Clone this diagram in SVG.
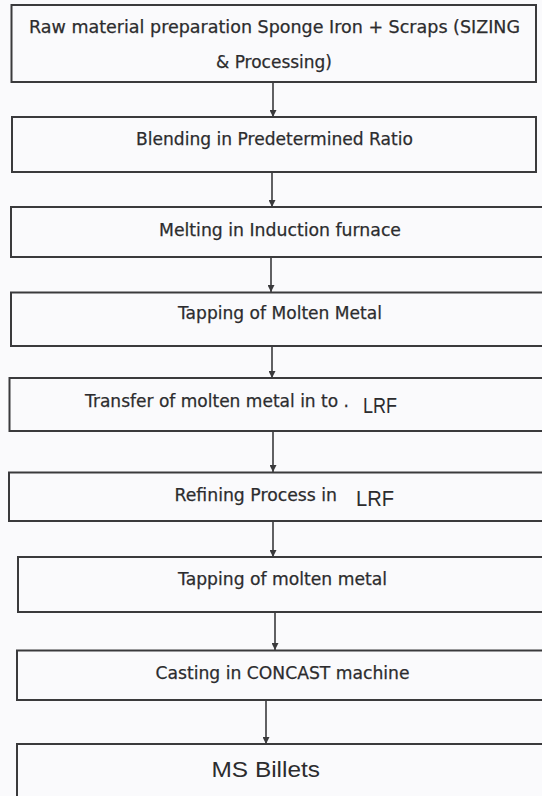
<svg xmlns="http://www.w3.org/2000/svg" width="542" height="796" viewBox="0 0 542 796">
<style>
.box{fill:none;stroke:#3a3a3c;stroke-width:2}
.t{font-family:"DejaVu Sans","Liberation Sans",sans-serif;font-size:17.5px;fill:#2c2c2e;stroke:#2c2c2e;stroke-width:0.25}
.c{font-family:"Liberation Sans","Noto Sans",sans-serif;font-size:22px;fill:#2c2c2e}
.ln{stroke:#3a3a3c;stroke-width:1.6;fill:none}
</style>
<defs>
<marker id="ah" viewBox="0 0 8 8" refX="8" refY="4" markerWidth="7" markerHeight="7" markerUnits="userSpaceOnUse" orient="auto">
<path d="M0,0 L8,4 L0,8 z" fill="#3a3a3c"/>
</marker>
</defs>
<rect width="542" height="796" fill="#fafafc"/>
<g id="connectors">
<line class="ln" x1="273" y1="82" x2="273" y2="117" marker-end="url(#ah)"/>
<line class="ln" x1="272" y1="172" x2="272" y2="207" marker-end="url(#ah)"/>
<line class="ln" x1="271" y1="257" x2="271" y2="292" marker-end="url(#ah)"/>
<line class="ln" x1="272" y1="346" x2="272" y2="378" marker-end="url(#ah)"/>
<line class="ln" x1="273" y1="431" x2="273" y2="472" marker-end="url(#ah)"/>
<line class="ln" x1="273" y1="521" x2="273" y2="557" marker-end="url(#ah)"/>
<line class="ln" x1="275" y1="612" x2="275" y2="650" marker-end="url(#ah)"/>
<line class="ln" x1="266" y1="700" x2="266" y2="744" marker-end="url(#ah)"/>
</g>
<g id="n1">
<rect class="box" x="11.5" y="5" width="524.5" height="77"/>
<text class="t" x="29" y="33" textLength="491" lengthAdjust="spacingAndGlyphs">Raw material preparation Sponge Iron + Scraps (SIZING</text>
<text class="t" x="216" y="68" textLength="116" lengthAdjust="spacingAndGlyphs">&amp; Processing)</text>
</g>
<g id="n2">
<rect class="box" x="12" y="117" width="524" height="55"/>
<text class="t" x="136" y="145" textLength="277" lengthAdjust="spacingAndGlyphs">Blending in Predetermined Ratio</text>
</g>
<g id="n3">
<rect class="box" x="11" y="207" width="540" height="50"/>
<text class="t" x="159" y="236" textLength="242" lengthAdjust="spacingAndGlyphs">Melting in Induction furnace</text>
</g>
<g id="n4">
<rect class="box" x="11" y="292.5" width="540" height="53.5"/>
<text class="t" x="178" y="319" textLength="204" lengthAdjust="spacingAndGlyphs">Tapping of Molten Metal</text>
</g>
<g id="n5">
<rect class="box" x="9.5" y="378" width="540" height="53"/>
<text class="t" x="85" y="407" textLength="264" lengthAdjust="spacingAndGlyphs">Transfer of molten metal in to .</text>
<text class="c" x="363" y="413" font-size="20" textLength="34" lengthAdjust="spacingAndGlyphs">LRF</text>
</g>
<g id="n6">
<rect class="box" x="9" y="472.5" width="540" height="48.5"/>
<text class="t" x="174.5" y="500.5" textLength="162.5" lengthAdjust="spacingAndGlyphs">Refining Process in</text>
<text class="c" x="356" y="506" font-size="20" textLength="38" lengthAdjust="spacingAndGlyphs">LRF</text>
</g>
<g id="n7">
<rect class="box" x="18" y="557" width="540" height="55"/>
<text class="t" x="178" y="585" textLength="209" lengthAdjust="spacingAndGlyphs">Tapping of molten metal</text>
</g>
<g id="n8">
<rect class="box" x="17" y="650.5" width="540" height="49.5"/>
<text class="t" x="155.5" y="679" textLength="254" lengthAdjust="spacingAndGlyphs">Casting in CONCAST machine</text>
</g>
<g id="n9">
<rect class="box" x="17" y="744" width="540" height="60"/>
<text class="c" x="211.5" y="777" font-size="23" textLength="108.5" lengthAdjust="spacingAndGlyphs">MS Billets</text>
</g>
</svg>
